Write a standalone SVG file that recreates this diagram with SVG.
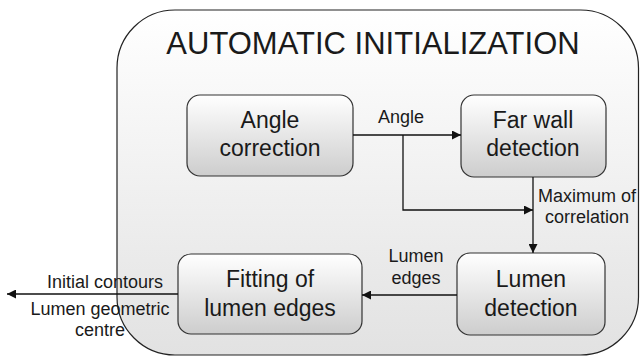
<svg xmlns="http://www.w3.org/2000/svg" width="640" height="358" viewBox="0 0 640 358">
  <defs>
    <linearGradient id="panelFill" x1="0" y1="0" x2="0" y2="1">
      <stop offset="0" stop-color="#ffffff"/>
      <stop offset="1" stop-color="#e2e2e2"/>
    </linearGradient>
    <linearGradient id="nodeFill" x1="0" y1="0" x2="0" y2="1">
      <stop offset="0" stop-color="#ffffff"/>
      <stop offset="1" stop-color="#cdcdcd"/>
    </linearGradient>
    <marker id="arrow" viewBox="0 0 10 10" refX="10" refY="5" markerWidth="9" markerHeight="9" markerUnits="userSpaceOnUse" orient="auto">
      <path d="M0,0 L10,5 L0,10 Z" fill="#111"/>
    </marker>
    <style>
      .panel { fill: url(#panelFill); stroke: #222; stroke-width: 1.2; }
      .node rect { fill: url(#nodeFill); stroke: #333; stroke-width: 1.2; }
      .node text { font-family: "Liberation Sans", Arial, sans-serif; font-size: 23px; fill: #1a1a1a; text-anchor: middle; }
      .title { font-family: "Liberation Sans", Arial, sans-serif; font-size: 31px; fill: #1a1a1a; text-anchor: middle; }
      .label { font-family: "Liberation Sans", Arial, sans-serif; font-size: 18px; fill: #1a1a1a; text-anchor: middle; }
      .edge { fill: none; stroke: #111; stroke-width: 1.3; }
    </style>
  </defs>

  <!-- enclosing stage -->
  <g id="stage">
    <rect class="panel" x="117" y="10" width="521.5" height="345" rx="58" ry="58"/>
    <text class="title" x="373" y="54">AUTOMATIC INITIALIZATION</text>
  </g>

  <!-- processing blocks -->
  <g id="angle-correction" class="node">
    <rect x="187" y="95" width="166" height="81" rx="13"/>
    <text x="270" y="128">Angle</text>
    <text x="270" y="156">correction</text>
  </g>
  <g id="far-wall-detection" class="node">
    <rect x="461" y="95" width="145" height="82" rx="13"/>
    <text x="533" y="128">Far wall</text>
    <text x="533" y="156">detection</text>
  </g>
  <g id="lumen-detection" class="node">
    <rect x="457" y="253" width="148" height="82" rx="13"/>
    <text x="531" y="287">Lumen</text>
    <text x="531" y="316">detection</text>
  </g>
  <g id="fitting-lumen-edges" class="node">
    <rect x="178" y="254" width="184" height="80" rx="13"/>
    <text x="270" y="287">Fitting of</text>
    <text x="270" y="316">lumen edges</text>
  </g>

  <!-- data flow -->
  <g id="connectors">
    <path class="edge" d="M353,135 H461" marker-end="url(#arrow)"/>
    <path class="edge" d="M403,135 V210 H533" marker-end="url(#arrow)"/>
    <path class="edge" d="M533,177 V253" marker-end="url(#arrow)"/>
    <path class="edge" d="M457,295 H362" marker-end="url(#arrow)"/>
    <path class="edge" d="M178,294 H7" marker-end="url(#arrow)"/>
  </g>

  <!-- connector labels -->
  <g id="labels">
    <text class="label" x="401" y="123">Angle</text>
    <text class="label" x="587" y="202">Maximum of</text>
    <text class="label" x="587" y="223">correlation</text>
    <text class="label" x="416" y="262">Lumen</text>
    <text class="label" x="416" y="284">edges</text>
    <text class="label" x="105" y="288">Initial contours</text>
    <text class="label" x="100" y="315">Lumen geometric</text>
    <text class="label" x="100" y="336">centre</text>
  </g>
</svg>
